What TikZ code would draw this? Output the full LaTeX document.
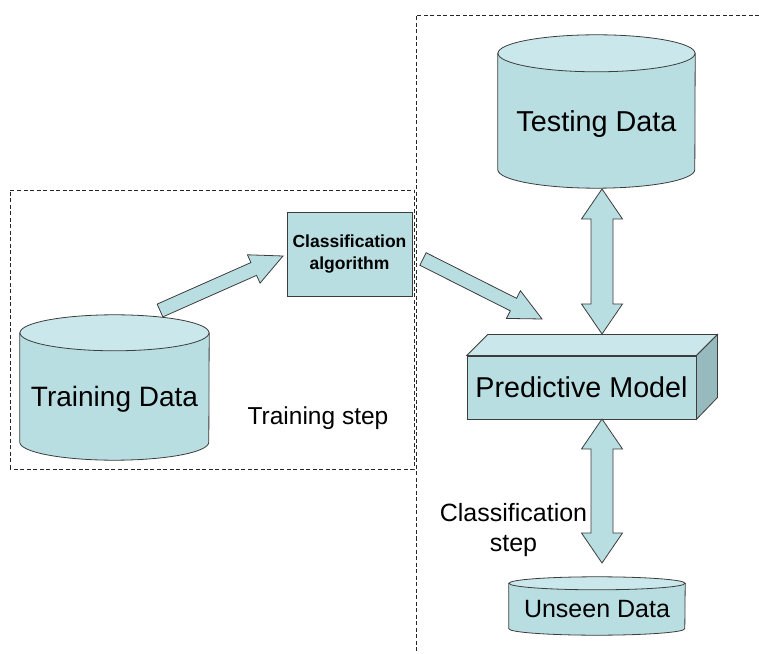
\documentclass[tikz,border=0pt]{standalone}
\usepackage{fontspec}
\setmainfont{Liberation Sans}
\usetikzlibrary{calc}

\definecolor{cylbody}{RGB}{185,222,226}
\definecolor{cyllid}{RGB}{202,232,235}
\definecolor{boxside}{RGB}{150,186,190}
\definecolor{edgegray}{RGB}{60,60,60}

\newcommand\datacyl[8]{%
  \node[cylframe, minimum width=#4pt, minimum height=#5pt] (#1) at (#2,#3) {};
  \draw[cylside] ([yshift=-#6pt]#1.north west) -- ([yshift=#6pt]#1.south west)
    arc[start angle=180, end angle=360, x radius=#4pt/2, y radius=#6pt]
    -- ([yshift=-#6pt]#1.north east) -- cycle;
  \draw[cyltop] ([yshift=-#6pt]#1.north) ellipse [x radius=#4pt/2, y radius=#6pt];
  \node[text depth=0pt, font=\fontsize{#8}{#8}\selectfont] (#1-text) at ([yshift=-#6pt/2]#1.center) {#7};
}

\newcommand\fatarrow[2]{%
  \coordinate (fa-base) at ($(#2)!32pt!(#1)$);
  \draw[fatarrow] ($(#1)!7pt!90:(#2)$) -- ($(fa-base)!7pt!-90:(#1)$)
    -- ($(fa-base)!15.5pt!-90:(#1)$) -- (#2) -- ($(fa-base)!15.5pt!90:(#1)$)
    -- ($(fa-base)!7pt!90:(#1)$) -- ($(#1)!7pt!-90:(#2)$) -- cycle;
}

\newcommand\fatdouble[2]{%
  \coordinate (fd-a) at ($(#1)!30pt!(#2)$);
  \coordinate (fd-b) at ($(#2)!30pt!(#1)$);
  \draw[fatarrow] (#1) -- ($(fd-a)!20.5pt!90:(#2)$) -- ($(fd-a)!11pt!90:(#2)$)
    -- ($(fd-b)!11pt!-90:(#1)$) -- ($(fd-b)!20.5pt!-90:(#1)$) -- (#2)
    -- ($(fd-b)!20.5pt!90:(#1)$) -- ($(fd-b)!11pt!90:(#1)$)
    -- ($(fd-a)!11pt!-90:(#2)$) -- ($(fd-a)!20.5pt!-90:(#2)$) -- cycle;
}

\begin{document}
\begin{tikzpicture}[x=1pt, y=1pt,
    cylframe/.style={rectangle, inner sep=0pt},
    cylside/.style={fill=cylbody, draw=edgegray, line width=0.8pt},
    cyltop/.style={fill=cyllid, draw=edgegray, line width=0.8pt},
    fatarrow/.style={fill=cylbody, draw=edgegray, line width=0.8pt, line join=miter},
    stepframe/.style={draw=black!85, line width=0.9pt, dash pattern=on 4pt off 2.5pt}]
    \useasboundingbox (0,0) rectangle (759,653);

    \draw[stepframe] (10,184) rectangle (414,463);
    \draw[stepframe] (759,638) -- (416,638) -- (416,0);

    \datacyl{train}{114.5}{265.5}{189}{145}{18}{Training Data}{28}
    \datacyl{test}{596.5}{541.5}{197}{153}{18.5}{Testing Data}{28.8}
    \datacyl{unseen}{597}{47}{176}{58}{6.5}{Unseen Data}{25}

    \node[draw=edgegray, fill=cylbody, line width=0.8pt, minimum width=125pt, minimum height=84pt,
          align=center, font=\bfseries\fontsize{17.5}{22}\selectfont] (algo) at (349.5,399)
          {Classification\\algorithm};

    \node[draw=edgegray, fill=cylbody, line width=0.8pt, minimum width=229pt, minimum height=63pt,
          text depth=0pt, font=\fontsize{28.7}{30}\selectfont] (model) at (581.5,265.5) {Predictive Model};
    \draw[fill=cyllid, draw=edgegray, line width=0.8pt] (model.north west) -- ++(21,21)
          -- ([shift={(21,21)}]model.north east) -- (model.north east) -- cycle;
    \draw[fill=boxside, draw=edgegray, line width=0.8pt] (model.north east) -- ++(21,21)
          -- ++(0,-63) -- (model.south east) -- cycle;

    \coordinate (trainout) at (160,342.5);
    \coordinate (algoin)   at (283,397);
    \coordinate (algoout)  at (423,394);
    \coordinate (modelin)  at (542,334);
    \coordinate (testout)  at (602,464);
    \coordinate (modeltop) at (602,319);
    \coordinate (modelbot) at (602,234);
    \coordinate (unseenin) at (602,90);

    \fatarrow{trainout}{algoin}
    \fatarrow{algoout}{modelin}
    \fatdouble{testout}{modeltop}
    \fatdouble{modelbot}{unseenin}

    \node[font=\fontsize{24.5}{28}\selectfont] (trainstep) at (318,235) {Training step};
    \node[align=center, font=\fontsize{25}{30}\selectfont] (classstep) at (513.5,123)
          {Classification\\step};
\end{tikzpicture}
\end{document}
